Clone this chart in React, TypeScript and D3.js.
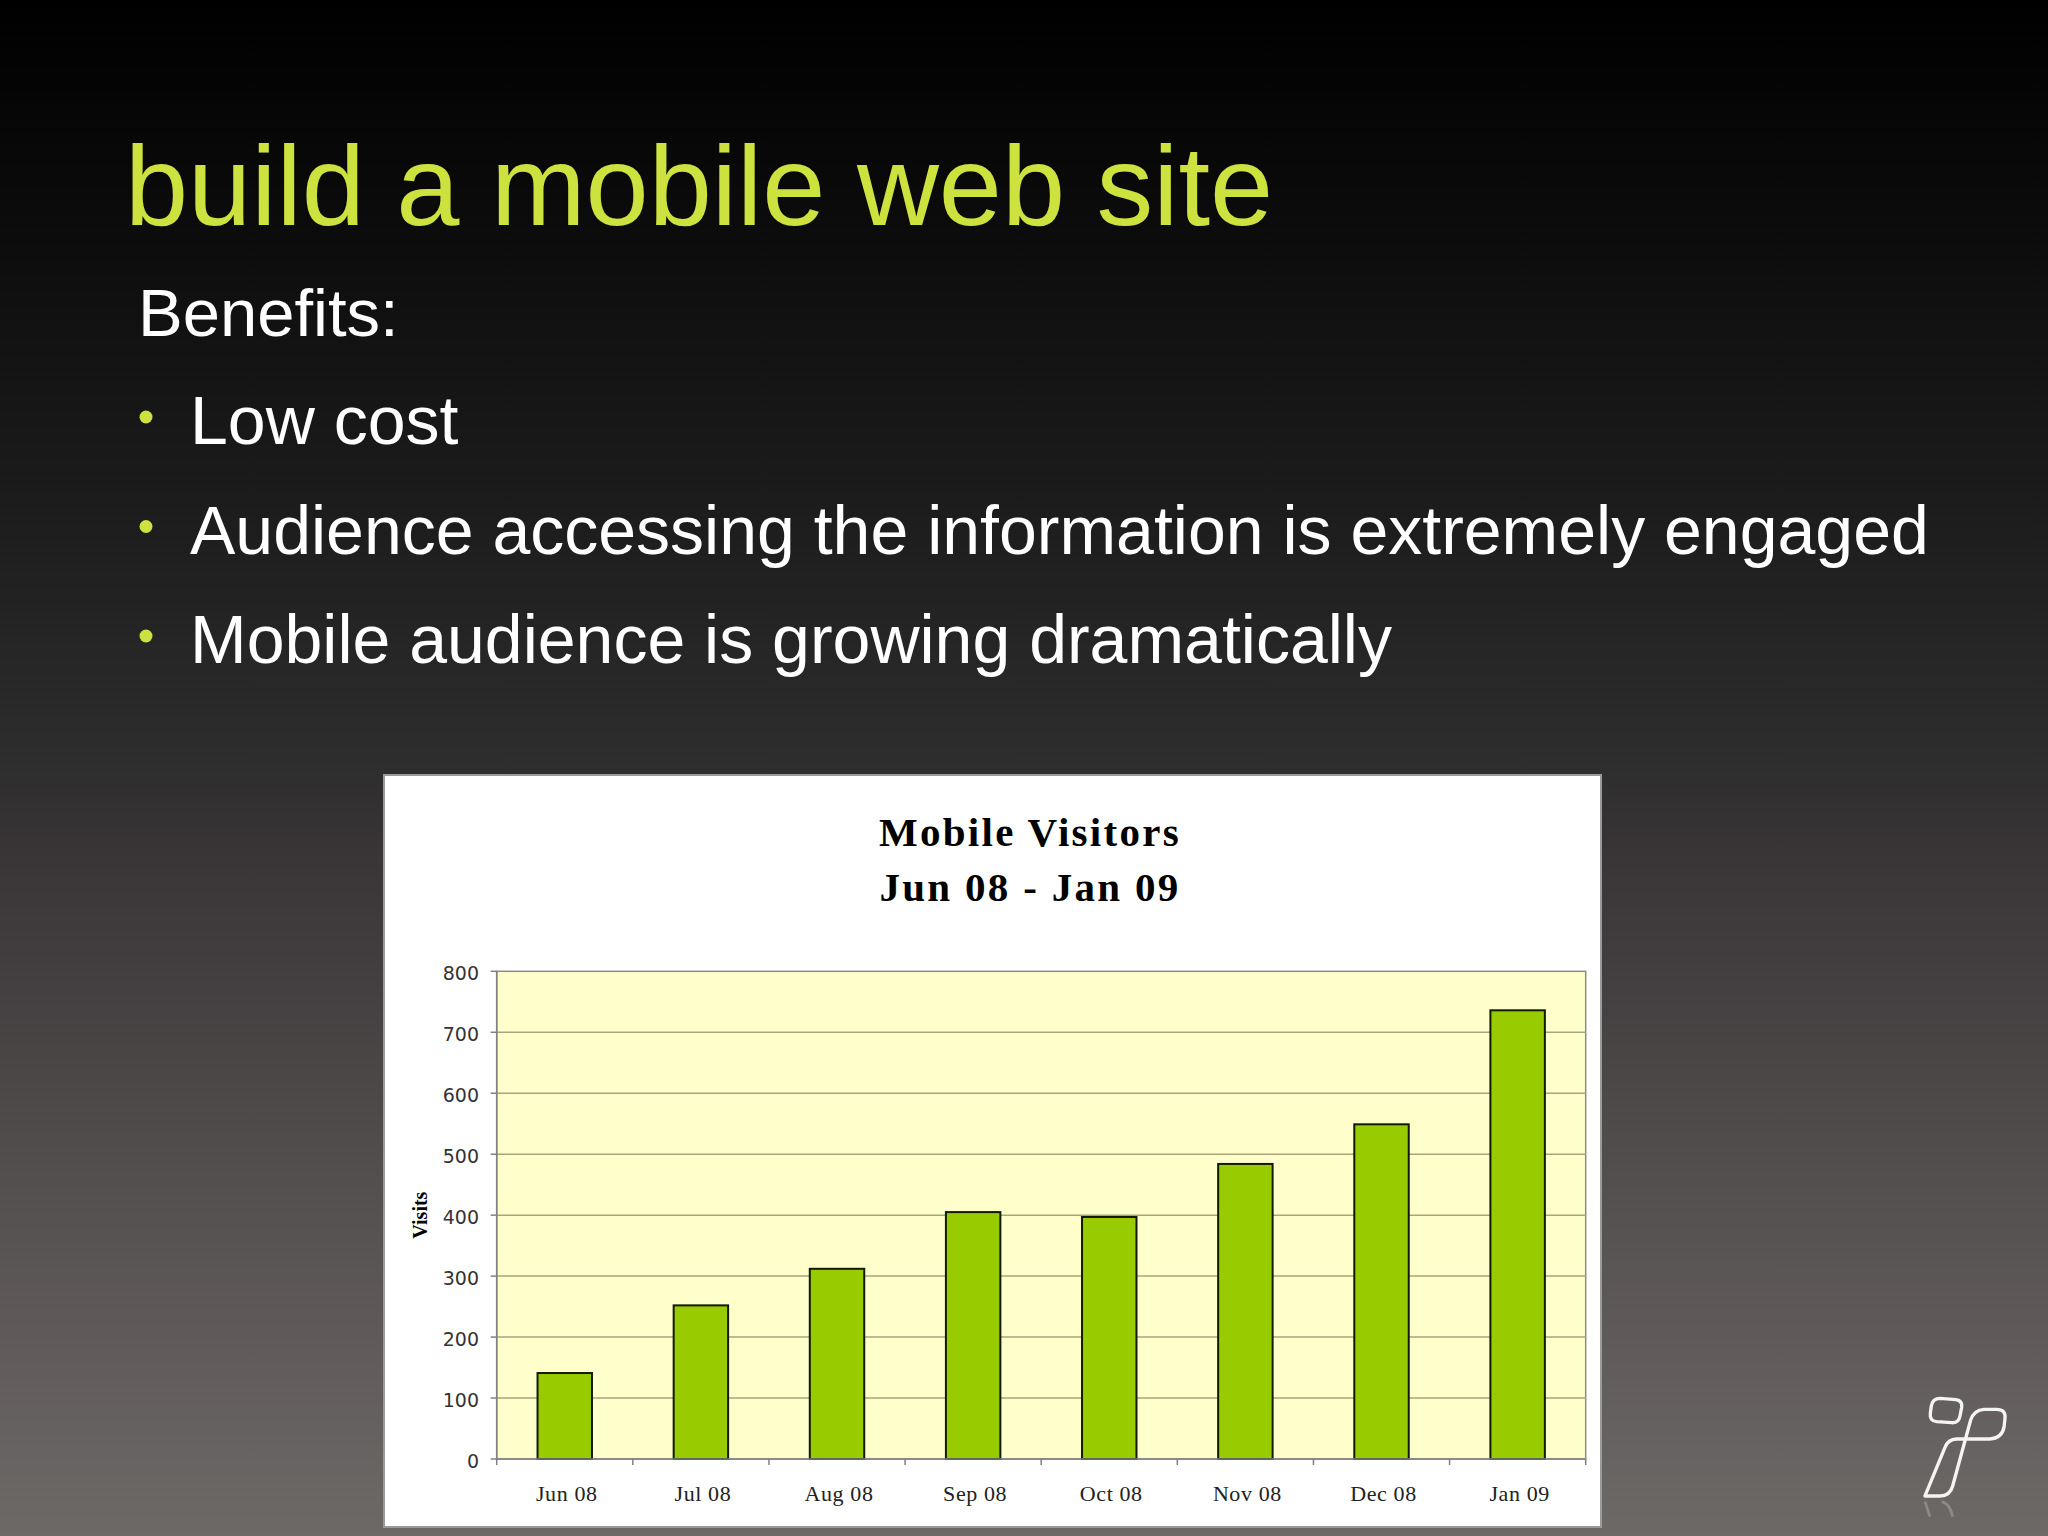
import React from "react";
import * as d3 from "d3";

const categories = ["Jun 08", "Jul 08", "Aug 08", "Sep 08", "Oct 08", "Nov 08", "Dec 08", "Jan 09"];
const visits = [141, 252, 312, 405, 397, 484, 549, 736];
const yTicks = [0, 100, 200, 300, 400, 500, 600, 700, 800];
const slideTitle = "build a mobile web site";
const introLine = "Benefits:";
const bullets = [
  "Low cost",
  "Audience accessing the information is extremely engaged",
  "Mobile audience is growing dramatically",
];
const chartTitle = ["Mobile Visitors", "Jun 08 - Jan 09"];
const yAxisTitle = "Visits";

export default function App() {
  const W = 2048;
  const H = 1536;
  const plot = { left: 496.7, right: 1585.7, top: 971.3, bottom: 1459 };
  const x = d3.scaleBand<string>().domain(categories).range([plot.left, plot.right]).paddingInner(0).paddingOuter(0);
  const y = d3.scaleLinear().domain([0, 800]).range([plot.bottom, plot.top]);
  const bw = x.bandwidth() * 0.4;
  const green = "#cde23e";
  const boundaries = d3.range(categories.length + 1).map((i) => plot.left + i * x.bandwidth());

  return (
    <svg width={W} height={H} style={{ position: "absolute", left: 0, top: 0, display: "block" }}>
      <defs>
        <linearGradient id="bg" x1="0" y1="0" x2="0" y2="1">
          <stop offset="0" stopColor="#000000" />
          <stop offset="0.15" stopColor="#0c0c0c" />
          <stop offset="0.35" stopColor="#1e1e1e" />
          <stop offset="0.5" stopColor="#2e2e2e" />
          <stop offset="0.56" stopColor="#3a3536" />
          <stop offset="0.75" stopColor="#524d4d" />
          <stop offset="1" stopColor="#6d6967" />
        </linearGradient>
      </defs>
      <rect x={0} y={0} width={W} height={H} fill="url(#bg)" />

      <text x={125} y={225} fill={green} fontFamily="'Liberation Sans', Arial, sans-serif" fontSize={113.5}>
        {slideTitle}
      </text>
      <text x={138} y={336} fill="#ffffff" fontFamily="'Liberation Sans', Arial, sans-serif" fontSize={67}>
        {introLine}
      </text>
      {bullets.map((b, i) => (
        <g key={b}>
          <circle cx={146} cy={417 + i * 109.5} r={6.5} fill={green} />
          <text x={190} y={444 + i * 109.5} fill="#ffffff" fontFamily="'Liberation Sans', Arial, sans-serif" fontSize={68}>
            {b}
          </text>
        </g>
      ))}

      {/* chart box */}
      <rect x={384} y={775} width={1217} height={752} fill="#ffffff" stroke="#9a9a9a" strokeWidth={2} />
      {chartTitle.map((t, i) => (
        <text
          key={t}
          x={1030}
          y={846 + i * 55}
          textAnchor="middle"
          fill="#000"
          fontFamily="'Liberation Serif', 'Times New Roman', serif"
          fontWeight="bold"
          fontSize={41}
          letterSpacing={2.3}
        >
          {t}
        </text>
      ))}

      {/* plot area */}
      <rect x={plot.left} y={plot.top} width={plot.right - plot.left} height={plot.bottom - plot.top} fill="#ffffcc" stroke="#8a8a8a" strokeWidth={1.5} />
      {yTicks.filter((t) => t > 0 && t < 800).map((t) => (
        <line key={t} x1={plot.left} x2={plot.right} y1={y(t)} y2={y(t)} stroke="#a9a47c" strokeWidth={1.5} />
      ))}

      {categories.map((c, i) => (
        <rect
          key={c}
          x={(x(c) as number) + (x.bandwidth() - bw) / 2}
          y={y(visits[i])}
          width={bw}
          height={y(0) - y(visits[i])}
          fill="#99cc00"
          stroke="#111a00"
          strokeWidth={2}
        />
      ))}

      {/* axes */}
      <line x1={plot.left} x2={plot.left} y1={plot.top} y2={plot.bottom} stroke="#808080" strokeWidth={1.5} />
      <line x1={plot.left} x2={plot.right} y1={plot.bottom} y2={plot.bottom} stroke="#808080" strokeWidth={1.5} />
      {yTicks.map((t) => (
        <g key={t}>
          <line x1={plot.left - 6} x2={plot.left} y1={y(t)} y2={y(t)} stroke="#808080" strokeWidth={1.5} />
          <text
            x={479}
            y={y(t) + 9}
            textAnchor="end"
            fill="#333"
            fontFamily="'DejaVu Sans', Verdana, sans-serif"
            fontSize={19}
          >
            {t}
          </text>
        </g>
      ))}
      {boundaries.map((bx, i) => (
        <line key={i} x1={bx} x2={bx} y1={plot.bottom} y2={plot.bottom + 6} stroke="#808080" strokeWidth={1.5} />
      ))}
      {categories.map((c) => (
        <text
          key={c}
          x={(x(c) as number) + x.bandwidth() / 2 + 2}
          y={1501}
          textAnchor="middle"
          fill="#222"
          fontFamily="'Liberation Serif', 'Times New Roman', serif"
          fontSize={22}
          letterSpacing={0.6}
        >
          {c}
        </text>
      ))}
      <text
        transform={`translate(427, ${(plot.top + plot.bottom) / 2}) rotate(-90)`}
        textAnchor="middle"
        fill="#000"
        fontFamily="'Liberation Serif', 'Times New Roman', serif"
        fontWeight="bold"
        fontSize={20}
      >
        {yAxisTitle}
      </text>

      {/* logo */}
      <g transform="translate(1880,1370) scale(0.3333)" fill="none" stroke="#f4f4f4" strokeWidth={10} strokeLinejoin="round">
        <path d="M180,85 Q158,85 154,108 L151,130 Q148,153 170,155 L215,158 Q236,160 240,138 L245,112 Q248,92 228,89 Z" />
        <path d="M135,378 L195,232 Q204,208 230,207 L330,207 Q365,205 372,172 L375,145 Q378,118 350,118 L312,118 Q282,120 272,150 L218,348 Q210,378 180,378 Z" />
      </g>
      <g transform="translate(1880,1370) scale(0.3333)" fill="none" stroke="#f4f4f4" strokeWidth={8} opacity={0.25}>
        <path d="M135,395 L150,440 M185,395 Q210,400 218,440" />
      </g>
    </svg>
  );
}
